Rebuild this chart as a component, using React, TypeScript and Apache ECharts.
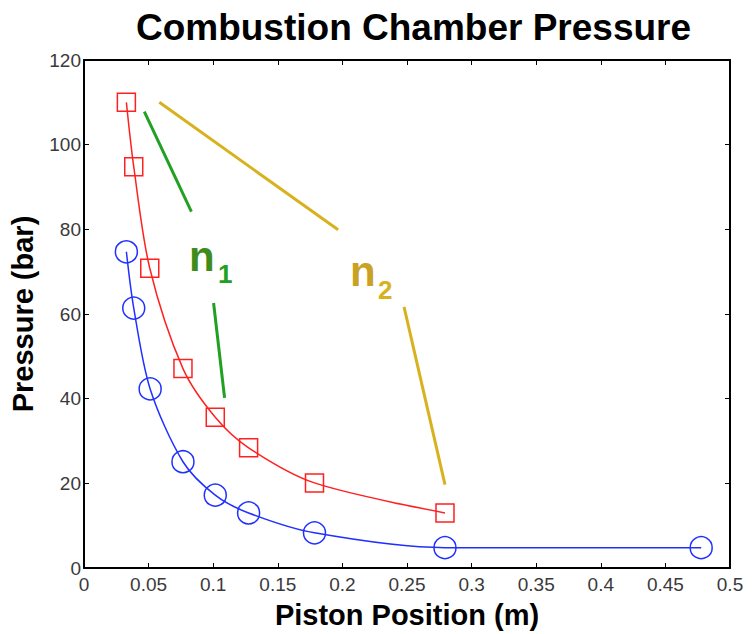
import React, { useEffect, useRef } from "react";
import * as echarts from "echarts";

const positions = [0.0328, 0.0385, 0.0512, 0.0766, 0.1016, 0.1274, 0.1784, 0.2794, 0.4777];
const lowPressure = [74.7, 61.4, 42.3, 25.1, 17.2, 13.0, 8.3, 4.8, 4.8];
const highPositions = [0.0328, 0.0385, 0.0509, 0.0766, 0.1016, 0.1274, 0.1784, 0.2794];
const highPressure = [110.0, 94.8, 70.8, 47.1, 35.6, 28.4, 20.1, 13.0];

const n1SegA = [[0.0467, 107.8], [0.0831, 84.2]];
const n1SegB = [[0.1003, 62.6], [0.1088, 40.2]];
const n2SegA = [[0.0583, 110.0], [0.1967, 79.9]];
const n2SegB = [[0.2477, 61.7], [0.2794, 19.7]];

const xTicks = ["0", "0.05", "0.1", "0.15", "0.2", "0.25", "0.3", "0.35", "0.4", "0.45", "0.5"];

export default function App() {
  const ref = useRef<HTMLDivElement>(null);
  useEffect(() => {
    if (!ref.current) return;
    const chart = echarts.init(ref.current, null, { renderer: "svg" });
    const font = "'Liberation Sans', Arial, Helvetica, sans-serif";
    const axisCommon = {
      axisLine: { show: true, onZero: false, lineStyle: { color: "#000", width: 2 } },
      axisTick: { show: true, inside: true, length: 5, lineStyle: { color: "#000", width: 1 } },
      splitLine: { show: false },
    };
    const seg = (data: number[][], color: string) => ({
      type: "line",
      data,
      symbol: "none",
      lineStyle: { color, width: 3 },
      silent: true,
      z: 1,
    });
    chart.setOption({
      animation: false,
      backgroundColor: "#fff",
      grid: { left: 84, right: 22, top: 60, bottom: 65, containLabel: false },
      xAxis: [
        {
          type: "value",
          min: 0,
          max: 0.5,
          interval: 0.05,
          position: "bottom",
          ...axisCommon,
          axisLabel: {
            color: "#3a3a3a",
            fontFamily: font,
            fontSize: 19,
            margin: 7,
            formatter: (v: number) => xTicks[Math.round(v / 0.05)] ?? "",
          },
          name: "Piston Position (m)",
          nameLocation: "middle",
          nameGap: 32,
          nameTextStyle: { fontFamily: font, fontSize: 29, fontWeight: "bold", color: "#000" },
        },
        {
          type: "value",
          min: 0,
          max: 0.5,
          interval: 0.05,
          position: "top",
          ...axisCommon,
          axisLabel: { show: false },
        },
      ],
      yAxis: [
        {
          type: "value",
          min: 0,
          max: 120,
          interval: 20,
          position: "left",
          ...axisCommon,
          axisLabel: { color: "#3a3a3a", fontFamily: font, fontSize: 19, margin: 3 },
          name: "Pressure (bar)",
          nameLocation: "middle",
          nameGap: 47,
          nameTextStyle: { fontFamily: font, fontSize: 29, fontWeight: "bold", color: "#000" },
        },
        {
          type: "value",
          min: 0,
          max: 120,
          interval: 20,
          position: "right",
          ...axisCommon,
          axisLabel: { show: false },
        },
      ],
      series: [
        seg(n1SegA, "#22a022"),
        seg(n1SegB, "#22a022"),
        seg(n2SegA, "#d8b21e"),
        seg(n2SegB, "#d8b21e"),
        {
          type: "line",
          data: highPositions.map((x, i) => [x, highPressure[i]]),
          symbol: "rect",
          symbolSize: 18,
          showAllSymbol: true,
          smooth: 0.3,
          lineStyle: { color: "#ff2020", width: 1.5 },
          itemStyle: { color: "rgba(255,255,255,0)", borderColor: "#ff2020", borderWidth: 1.5 },
          z: 3,
        },
        {
          type: "line",
          data: positions.map((x, i) => [x, lowPressure[i]]),
          symbol: "circle",
          symbolSize: 22,
          showAllSymbol: true,
          smooth: 0.3,
          lineStyle: { color: "#2030ff", width: 1.5 },
          itemStyle: { color: "rgba(255,255,255,0)", borderColor: "#2030ff", borderWidth: 1.5 },
          z: 3,
        },
      ],
      graphic: [
        {
          type: "text",
          x: 413.5,
          y: 27,
          style: {
            text: "Combustion Chamber Pressure",
            fontFamily: font,
            fontSize: 37,
            fontWeight: "bold",
            fill: "#000",
            textAlign: "center",
            textVerticalAlign: "middle",
          },
        },
        {
          type: "text",
          x: 189,
          y: 256,
          style: { text: "n", fontFamily: font, fontSize: 42, fontWeight: "bold", fill: "#3d8c1c", textVerticalAlign: "middle" },
        },
        {
          type: "text",
          x: 218,
          y: 274,
          style: { text: "1", fontFamily: font, fontSize: 26, fontWeight: "bold", fill: "#22a022", textVerticalAlign: "middle" },
        },
        {
          type: "text",
          x: 350,
          y: 271,
          style: { text: "n", fontFamily: font, fontSize: 42, fontWeight: "bold", fill: "#c9a224", textVerticalAlign: "middle" },
        },
        {
          type: "text",
          x: 378,
          y: 290,
          style: { text: "2", fontFamily: font, fontSize: 26, fontWeight: "bold", fill: "#d8b21e", textVerticalAlign: "middle" },
        },
      ],
    });
    return () => chart.dispose();
  }, []);
  return <div ref={ref} style={{ position: "absolute", left: 0, top: 0, width: 752, height: 634 }} />;
}
